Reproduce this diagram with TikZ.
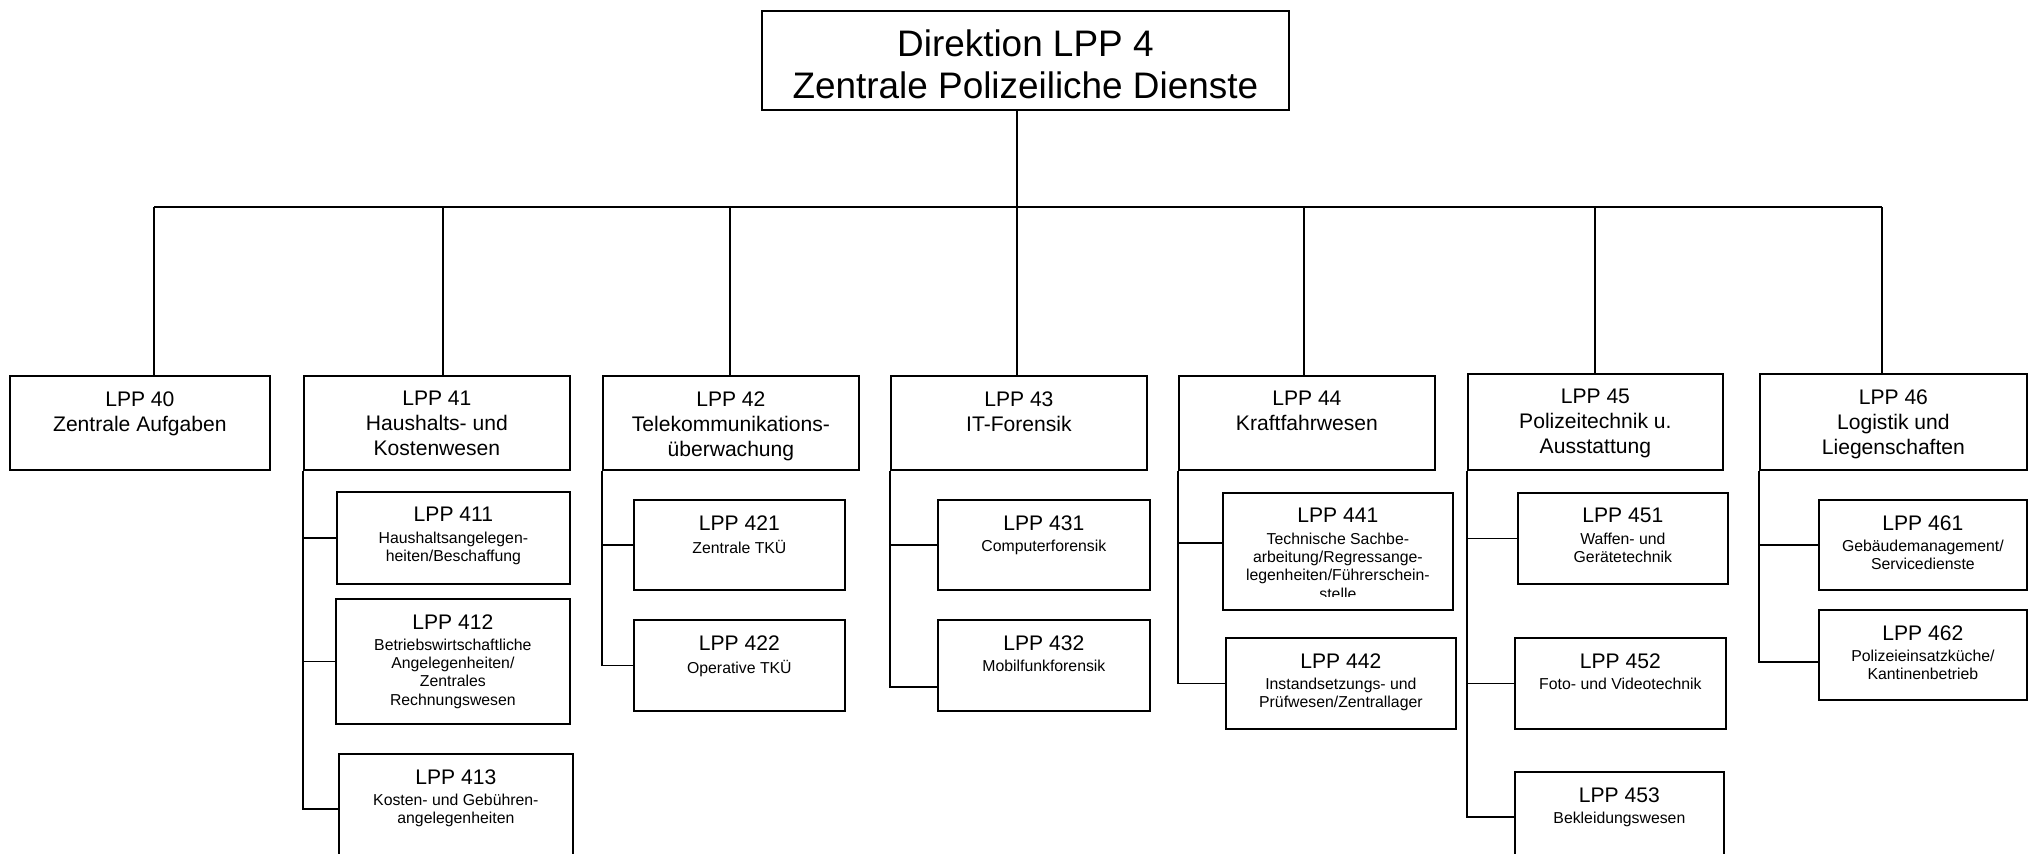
\documentclass[tikz,border=0pt]{standalone}
\usepackage{fontspec}
\setmainfont{Liberation Sans}

\begin{document}
\begin{tikzpicture}[line width=1pt,
    box/.style={draw, inner sep=0pt, anchor=north west},
    top/.style={anchor=north, align=center, inner sep=0pt, yshift=-0.37cm, font=\fontsize{21}{24}\selectfont},
    head/.style={anchor=north, align=center, inner sep=0pt, yshift=-0.31cm, font=\fontsize{12}{14.2}\selectfont},
    desc/.style={anchor=north, align=center, inner sep=0pt, yshift=-0.8cm, font=\fontsize{9}{10.4}\selectfont},
    link/.style={line width=1pt}]
    \useasboundingbox (0,0) rectangle (40.56,-17.06);

    % Direktion
    \node[box, minimum width=10.54cm, minimum height=1.98cm,
      label={[top]north:Direktion LPP 4\\Zentrale Polizeiliche Dienste}] (dir) at (15.22,-0.2) {};

    % Abteilungen
    \node[box, minimum width=5.2cm, minimum height=1.88cm, label={[head]north:LPP 40\\Zentrale Aufgaben}] (p40) at (0.18,-7.5) {};
    \node[box, minimum width=5.32cm, minimum height=1.88cm, label={[head]north:LPP 41\\Haushalts- und\\Kostenwesen}] (p41) at (6.06,-7.5) {};
    \node[box, minimum width=5.12cm, minimum height=1.88cm, label={[head]north:LPP 42\\Telekommunikations-\\überwachung}] (p42) at (12.04,-7.5) {};
    \node[box, minimum width=5.12cm, minimum height=1.88cm, label={[head]north:LPP 43\\IT-Forensik}] (p43) at (17.8,-7.5) {};
    \node[box, minimum width=5.12cm, minimum height=1.88cm, label={[head]north:LPP 44\\Kraftfahrwesen}] (p44) at (23.56,-7.5) {};
    \node[box, minimum width=5.1cm, minimum height=1.92cm, label={[head]north:LPP 45\\Polizeitechnik u.\\Ausstattung}] (p45) at (29.34,-7.46) {};
    \node[box, minimum width=5.34cm, minimum height=1.92cm, label={[head]north:LPP 46\\Logistik und\\Liegenschaften}] (p46) at (35.18,-7.46) {};

    % Sachgebiete
    \node[box, minimum width=4.66cm, minimum height=1.84cm, label={[head]north:LPP 411},
      label={[desc]north:Haushaltsangelegen-\\heiten/Beschaffung}] (c411) at (6.72,-9.82) {};
    \node[box, minimum width=4.68cm, minimum height=2.5cm, label={[head]north:LPP 412},
      label={[desc]north:Betriebswirtschaftliche\\Angelegenheiten/\\Zentrales\\Rechnungswesen}] (c412) at (6.7,-11.96) {};
    \node[box, minimum width=4.68cm, minimum height=2.2cm, label={[head]north:LPP 413},
      label={[desc]north:Kosten- und Gebühren-\\angelegenheiten}] (c413) at (6.76,-15.06) {};

    \node[box, minimum width=4.22cm, minimum height=1.8cm, label={[head]north:LPP 421},
      label={[desc]north:Zentrale TKÜ}] (c421) at (12.66,-9.98) {};
    \node[box, minimum width=4.22cm, minimum height=1.82cm, label={[head]north:LPP 422},
      label={[desc]north:Operative TKÜ}] (c422) at (12.66,-12.38) {};

    \node[box, minimum width=4.24cm, minimum height=1.8cm, label={[head]north:LPP 431},
      label={[desc]north:Computerforensik}] (c431) at (18.74,-9.98) {};
    \node[box, minimum width=4.24cm, minimum height=1.82cm, label={[head]north:LPP 432},
      label={[desc]north:Mobilfunkforensik}] (c432) at (18.74,-12.38) {};

    \node[box, minimum width=4.6cm, minimum height=2.34cm, label={[head]north:LPP 441}] (c441) at (24.44,-9.84) {};
    \begin{scope}
      \clip (c441.north west) rectangle ([yshift=0.29cm]c441.south east);
      \node[desc] (t441) at (c441.north) {Technische Sachbe-\\arbeitung/Regressange-\\legenheiten/Führerschein-\\stelle};
    \end{scope}
    \node[box, minimum width=4.6cm, minimum height=1.82cm, label={[head]north:LPP 442},
      label={[desc]north:Instandsetzungs- und\\Prüfwesen/Zentrallager}] (c442) at (24.5,-12.74) {};

    \node[box, minimum width=4.2cm, minimum height=1.82cm, label={[head]north:LPP 451},
      label={[desc]north:Waffen- und\\Gerätetechnik}] (c451) at (30.34,-9.84) {};
    \node[box, minimum width=4.22cm, minimum height=1.82cm, label={[head]north:LPP 452},
      label={[desc]north:Foto- und Videotechnik}] (c452) at (30.28,-12.74) {};
    \node[box, minimum width=4.18cm, minimum height=1.8cm, label={[head]north:LPP 453},
      label={[desc]north:Bekleidungswesen}] (c453) at (30.28,-15.42) {};

    \node[box, minimum width=4.16cm, minimum height=1.8cm, label={[head]north:LPP 461},
      label={[desc]north:Gebäudemanagement/\\Servicedienste}] (c461) at (36.36,-9.98) {};
    \node[box, minimum width=4.16cm, minimum height=1.8cm, label={[head]north:LPP 462},
      label={[desc]north:Polizeieinsatzküche/\\Kantinenbetrieb}] (c462) at (36.36,-12.18) {};

    % Verbindungen
    \coordinate (d40) at (3.08,-4.14);
    \coordinate (d41) at (8.86,-4.14);
    \coordinate (d42) at (14.6,-4.14);
    \coordinate (d43) at (20.34,-4.14);
    \coordinate (d44) at (26.08,-4.14);
    \coordinate (d45) at (31.9,-4.14);
    \coordinate (d46) at (37.64,-4.14);
    \draw[link] (d40) -- (d46);
    \draw[link] (d43 |- dir.south) -- (d43 |- p43.north);
    \foreach \n in {40,41,42,44,45,46}
      \draw[link] (d\n) -- (d\n |- p\n.north);

    \draw[link] (p41.south west) |- (c411.west);
    \draw[link] (p41.south west) |- (c412.west);
    \draw[link] (p41.south west) |- (c413.west);
    \draw[link] (p42.south west) |- (c421.west);
    \draw[link] (p42.south west) |- (c422.west);
    \draw[link] (p43.south west) |- (c431.west);
    \draw[link] (p43.south west) |- ([yshift=-0.43cm]c432.west);
    \draw[link] (p44.south west) |- ([yshift=0.17cm]c441.west);
    \draw[link] (p44.south west) |- (c442.west);
    \draw[link] (p45.south west) |- (c451.west);
    \draw[link] (p45.south west) |- (c452.west);
    \draw[link] (p45.south west) |- (c453.west);
    \draw[link] (p46.south west) |- (c461.west);
    \draw[link] (p46.south west) |- ([yshift=-0.14cm]c462.west);
\end{tikzpicture}
\end{document}
